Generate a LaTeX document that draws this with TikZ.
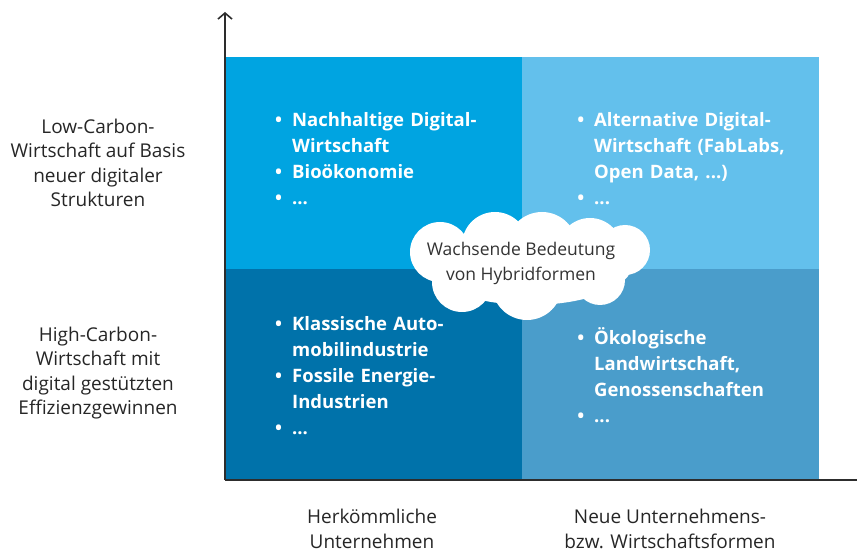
\documentclass[tikz,border=0pt]{standalone}
\usepackage{fontspec}
\setmainfont{Open Sans}
\usetikzlibrary{arrows.meta}
\definecolor{qtl}{RGB}{0,164,225}
\definecolor{qtr}{RGB}{99,192,236}
\definecolor{qbl}{RGB}{0,114,170}
\definecolor{qbr}{RGB}{74,157,203}
\definecolor{axisgray}{RGB}{45,45,45}
\newenvironment{quadlist}{\begin{list}{\textbullet}{\setlength\leftmargin{18pt}%
  \setlength\labelsep{10pt}\setlength\labelwidth{8pt}\setlength\itemsep{0pt}%
  \setlength\parsep{0pt}\setlength\topsep{0pt}\setlength\partopsep{0pt}}}{\end{list}}

\begin{document}
\begin{tikzpicture}[x=1pt,y=-1pt,>={Straight Barb[length=6pt,width=14pt]},
  axis/.style={->,line width=1.6pt,draw=axisgray},
  quad/.style={anchor=north west,inner sep=0pt,text width=250pt,text=white,
    font=\fontsize{18.5}{26}\selectfont\bfseries},
  side/.style={align=center,text=black!85,font=\fontsize{19}{24.5}\selectfont}]
\useasboundingbox (0,0) rectangle (857,553);
\fill[qtl] (225,57) rectangle (522,269);
\fill[qtr] (522,57) rectangle (819,269);
\fill[qbl] (225,269) rectangle (522,480);
\fill[qbr] (522,269) rectangle (819,480);
\coordinate (o) at (225,480);
\coordinate (ytip) at (225,12);
\coordinate (xtip) at (865,480);
\draw[axis] (o) -- (ytip);
\draw[axis] (o) -- (xtip);
\node[quad] (tl) at (274,100) {\begin{quadlist}\item Nachhaltige Digital-\\Wirtschaft
  \item Bioökonomie \item ...\end{quadlist}};
\node[quad] (tr) at (576,100) {\begin{quadlist}\item Alternative Digital-\\Wirtschaft (FabLabs,\\Open Data, ...)
  \item ...\end{quadlist}};
\node[quad] (bl) at (274,304) {\begin{quadlist}\item Klassische Auto-\\mobilindustrie
  \item Fossile Energie-\\Industrien \item ...\end{quadlist}};
\node[quad] (br) at (576,318) {\begin{quadlist}\item Ökologische\\Landwirtschaft,\\Genossenschaften
  \item ...\end{quadlist}};
\fill[white] (530,265) ellipse[x radius=102pt,y radius=40pt];
\foreach \cx/\cy/\r in {440/252/30,462/282/30,495/245/33,542/247/35,590/250/32,
  625/250/25,600/280/25,527/285/35}
  \fill[white] (\cx,\cy) circle[radius=\r pt];
\node[align=center,text=black!80,font=\fontsize{17.5}{25}\selectfont] (hyb) at (521,263)
  {Wachsende Bedeutung\\von Hybridformen};
\node[side] (lowc) at (98,163) {Low-Carbon-\\Wirtschaft auf Basis\\neuer digitaler\\Strukturen};
\node[side] (highc) at (98,373) {High-Carbon-\\Wirtschaft mit\\digital gestützten\\Effizienzgewinnen};
\node[side] (herk) at (372,529) {Herkömmliche\\Unternehmen};
\node[side] (neue) at (670,529) {Neue Unternehmens-\\bzw. Wirtschaftsformen};
\end{tikzpicture}
\end{document}
